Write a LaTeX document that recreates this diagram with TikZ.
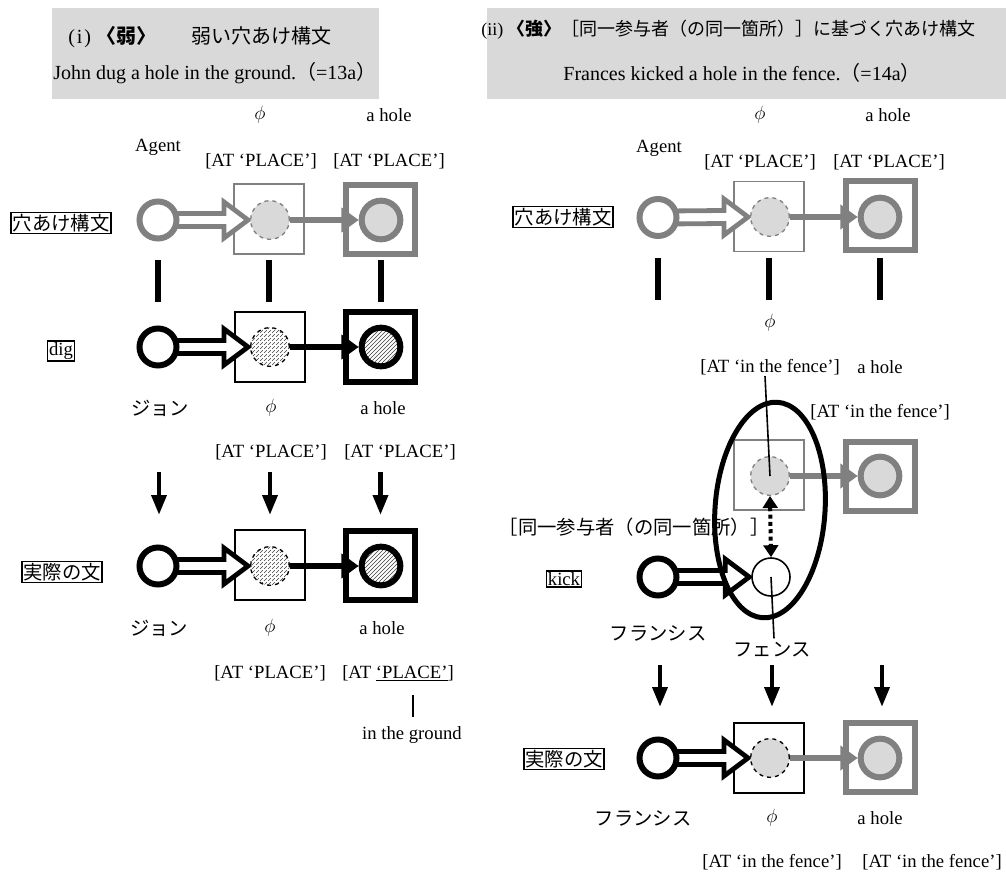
\documentclass[tikz,border=0pt]{standalone}
\usepackage{fontspec}
\setmainfont{Liberation Serif}
\newfontfamily\jp{Noto Sans CJK JP}
\usetikzlibrary{arrows.meta,patterns,calc}
\pgfdeclarelayer{bg}
\pgfsetlayers{bg,main}
\definecolor{gline}{RGB}{128,128,128}
\definecolor{gfill}{RGB}{217,217,217}
\definecolor{hdr}{RGB}{217,217,217}
\newcommand{\bodyf}{\fontsize{14}{16}\selectfont}
\newcommand{\jpf}{\jp\fontsize{14.5}{16}\selectfont}
\newcommand{\hollowarr}[3]{%
  \filldraw[#1] ($(#2.center)+(10,-6.5)$) -- ($(#3.west)+(-26,-6.5)$) -- ($(#3.west)+(-26,-18)$)
    -- ($(#3.west)+(-2,0)$) -- ($(#3.west)+(-26,18)$) -- ($(#3.west)+(-26,6.5)$) -- ($(#2.center)+(10,6.5)$);}
\tikzset{
 tx/.style={inner sep=0pt, font=\bodyf},
 jtx/.style={inner sep=0pt, font=\jpf},
 lab/.style={draw, line width=1.2pt, inner sep=1.2pt, font=\jpf},
 labl/.style={draw, line width=1.2pt, inner sep=1.2pt, font=\bodyf},
 agentG/.style={circle, draw=gline, fill=white, line width=4.5pt, minimum size=27.75pt, inner sep=0pt},
 agentK/.style={agentG, draw=black},
 dotG/.style={circle, draw=gline, dashed, fill=gfill, line width=1pt, minimum size=29pt, inner sep=0pt},
 dotGK/.style={dotG, draw=black},
 dotH/.style={circle, draw=black, dashed, pattern=north east lines, pattern color=black!75, line width=1pt, minimum size=29pt, inner sep=0pt},
 boxT/.style={rectangle, draw=gline, line width=1.2pt, minimum size=52.5pt, inner sep=0pt},
 boxTK/.style={boxT, draw=black},
 boxB/.style={rectangle, draw=gline, line width=4.5pt, minimum size=51.75pt, inner sep=0pt},
 boxBK/.style={boxB, draw=black},
 holeG/.style={circle, draw=gline, fill=gfill, line width=4.5pt, minimum size=29pt, inner sep=0pt},
 holeH/.style={circle, draw=black, pattern=north east lines, pattern color=black!75, line width=4.5pt, minimum size=29pt, inner sep=0pt},
 whiteC/.style={circle, draw=black, fill=white, line width=1.2pt, minimum size=28.5pt, inner sep=0pt},
 hollowG/.style={draw=gline, fill=white, line width=3.6pt, line join=miter},
 hollowK/.style={hollowG, draw=black},
 linkG/.style={draw=gline, line width=4pt, -{Triangle[length=13pt,width=18pt]}},
 linkK/.style={linkG, draw=black},
 bar/.style={line width=4.5pt},
 down/.style={line width=3.4pt, -{Triangle[length=15pt,width=11pt]}},
 thinl/.style={line width=1.2pt},
 dotarr/.style={line width=3pt, dash pattern=on 3pt off 2.5pt, {Triangle[length=9pt,width=11pt]}-{Triangle[length=9pt,width=11pt]}},
}
\begin{document}
\begin{tikzpicture}[x=0.75pt,y=-0.75pt]
\useasboundingbox (0,0) rectangle (1006,873);
% headers
\fill[hdr] (52,8) rectangle (379,99);
\fill[hdr] (487,8) rectangle (1006,99);
\node[tx, anchor=west, font=\fontsize{15}{17}\selectfont] (hL1) at (68,37) {(\hspace{1.5pt}i\hspace{1.5pt})\hspace{4pt}{\jp\bfseries 〈弱〉}\hspace{26pt}{\jp 弱い穴あけ構文}};
\node[tx, anchor=west, font=\fontsize{15}{17}\selectfont] (hL2) at (53,73) {John dug a hole in the ground.{\jp （}=13a{\jp ）}};
\node[tx, anchor=west, font=\fontsize{13.5}{16}\selectfont] (hR1) at (481,30) {(ii) {\jp\bfseries 〈強〉}{\jp ［同一参与者（の同一箇所）］に基づく穴あけ構文}};
\node[tx, font=\fontsize{15}{17}\selectfont] (hR2) at (742,73) {Frances kicked a hole in the fence.{\jp （}=14a{\jp ）}};

% ---------------- left panel ----------------
\node[tx] (phiL) at (260,115) {$\phi$};
\node[tx] (holeL) at (389,115) {a hole};
\node[tx] (agL) at (158,147) {Agent};
\node[tx] (plL1) at (261,161) {[AT ‘PLACE’]};
\node[tx] (plL2) at (389,161) {[AT ‘PLACE’]};
% row 1
\node[lab] (cL1) at (61,223) {穴あけ構文};
\node[agentG] (aL1) at (158,220) {};
\node[dotG] (dL1) at (270,220) {};
\node[holeG] (hL1) at (381,220) {};
% row 2
\node[labl] (cL2) at (61,351) {dig};
\node[agentK] (aL2) at (158,347) {};
\node[dotH] (dL2) at (270,347) {};
\node[holeH] (hL2) at (381,347) {};
\node[jtx] (jL2) at (160,408) {ジョン};
\node[tx] (pL2) at (271,408) {$\phi$};
\node[tx] (oL2) at (383,408) {a hole};
\node[tx] (qL2a) at (271,452) {[AT ‘PLACE’]};
\node[tx] (qL2b) at (400,452) {[AT ‘PLACE’]};
% row 3
\node[lab] (cL3) at (62,572) {実際の文};
\node[agentK] (aL3) at (158,566) {};
\node[dotH] (dL3) at (270,566) {};
\node[holeH] (hL3) at (381,566) {};
\node[jtx] (jL3) at (159,628) {ジョン};
\node[tx] (pL3) at (270,628) {$\phi$};
\node[tx] (oL3) at (382,628) {a hole};
\node[tx] (qL3a) at (270,673) {[AT ‘PLACE’]};
\node[tx] (qL3b) at (398,673) {[AT \underline{‘PLACE’}]};
\node[tx] (gr) at (412,735) {in the ground};

% ---------------- right panel ----------------
\node[tx] (phiR) at (760,115) {$\phi$};
\node[tx] (holeR) at (888,115) {a hole};
\node[tx] (agR) at (659,148) {Agent};
\node[tx] (plR1) at (760,162) {[AT ‘PLACE’]};
\node[tx] (plR2) at (889,162) {[AT ‘PLACE’]};
% row 1
\node[lab] (cR1) at (563,217) {穴あけ構文};
\node[agentG] (aR1) at (658,217.5) {};
\node[dotG] (dR1) at (770,217) {};
\node[holeG] (hR1) at (880,217) {};
\node[tx] (phiR2) at (770,323) {$\phi$};
% middle
\node[tx] (f1) at (770,367) {[AT ‘in the fence’]};
\node[tx] (holeR2) at (880,367) {a hole};
\node[tx] (f2) at (880,412) {[AT ‘in the fence’]};
\node[dotG] (dR2) at (770,476) {};
\node[holeG] (hR2) at (880,476) {};
\node[jtx] (same) at (634,527) {［同一参与者（の同一箇所）］};
\node[labl] (kick) at (564,579) {kick};
\node[agentK] (aR2) at (658,577) {};
\node[whiteC] (wc) at (771,577) {};
\node[jtx] (fr1) at (658,633) {フランシス};
\node[jtx] (fen) at (772,650) {フェンス};
% row 3
\node[lab] (cR3) at (564,759) {実際の文};
\node[agentK] (aR3) at (658,758) {};
\node[dotGK] (dR3) at (770,758) {};
\node[holeG] (hR3) at (880,758) {};
\node[jtx] (fr2) at (643,818) {フランシス};
\node[tx] (pR3) at (772,818) {$\phi$};
\node[tx] (oR3) at (880,818) {a hole};
\node[tx] (f3) at (772,862) {[AT ‘in the fence’]};
\node[tx] (f4) at (932,862) {[AT ‘in the fence’]};

% background: boxes and arrows
\begin{pgfonlayer}{bg}
\node[boxT] (bL1) at (269,219) {};
\node[boxB] (BL1) at (380.5,219.5) {};
\node[boxTK] (bL2) at (270,347) {};
\node[boxBK] (BL2) at (380.5,347) {};
\node[boxTK] (bL3) at (270,565) {};
\node[boxBK] (BL3) at (380.5,565.5) {};
\node[boxT] (bR1) at (769,216.5) {};
\node[boxB] (BR1) at (880,216) {};
\node[boxT] (bR2) at (769,475) {};
\node[boxB] (BR2) at (880,476) {};
\node[boxTK] (bR3) at (769,758) {};
\node[boxB] (BR3) at (880,757) {};
\hollowarr{hollowG}{aL1}{dL1}
\hollowarr{hollowK}{aL2}{dL2}
\hollowarr{hollowK}{aL3}{dL3}
\hollowarr{hollowG}{aR1}{dR1}
\hollowarr{hollowK}{aR2}{wc}
\hollowarr{hollowK}{aR3}{dR3}
\draw[linkG] (dL1.east) -- (hL1.west);
\draw[linkK] (dL2.east) -- (hL2.west);
\draw[linkK] (dL3.east) -- (hL3.west);
\draw[linkG] (dR1.east) -- (hR1.west);
\draw[linkG] (dR2.east) -- (hR2.west);
\draw[linkG] (dR3.east) -- (hR3.west);
\end{pgfonlayer}

% bars
\draw[bar] ($(aL1.south)+(0,18.5)$) -- ++(0,42);
\draw[bar] ($(bL1.south)+(0,5)$) -- ++(0,42);
\draw[bar] ($(BL1.south)+(0,3)$) -- ++(0,42);
\draw[bar] ($(aR1.south)+(0,19)$) -- ++(0,42);
\draw[bar] ($(bR1.south)+(0,5.7)$) -- ++(0,42);
\draw[bar] ($(BR1.south)+(0,4.5)$) -- ++(0,42);
% down arrows
\draw[down] ($(aL3.north)+(1,-72.5)$) -- ++(0,43);
\draw[down] ($(bL3.north)+(0,-57.2)$) -- ++(0,43);
\draw[down] ($(BL3.north)+(0,-56)$) -- ++(0,43);
\draw[down] ($(aR3.north)+(2,-71.5)$) -- ++(0,42);
\draw[down] ($(bR3.north)+(3,-57.2)$) -- ++(0,42);
\draw[down] ($(BR3.north)+(2,-54.5)$) -- ++(0,42);
% in the ground link
\draw[thinl] ($(gr.north)+(1,-9.5)$) -- ++(0,-22);
% right middle links
\draw[thinl] ($(f1.south)+(-5,1)$) -- (dR2.center);
\draw[thinl] (wc.center) -- ($(fen.north)+(2,-4)$);
\draw[dotarr] (dR2.south) -- (wc.north);
% ellipse
\draw[line width=3.75pt, rotate around={-4:(770,510)}] (770,510) ellipse [x radius=55, y radius=108];
\end{tikzpicture}
\end{document}
